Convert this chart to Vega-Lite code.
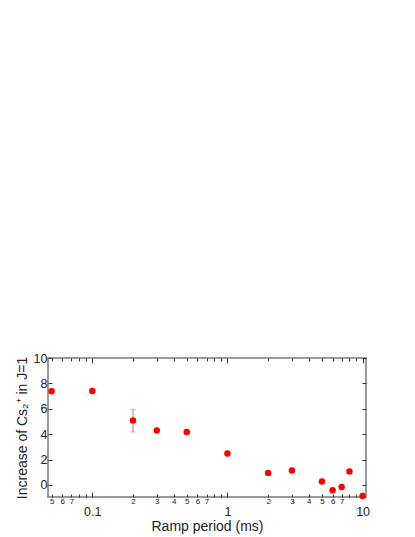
{
  "$schema": "https://vega.github.io/schema/vega-lite/v6.json",
  "autosize": "none",
  "width": 318,
  "height": 139,
  "padding": {"left": 48, "top": 358, "right": 49, "bottom": 40},
  "background": "white",
  "config": {
    "font": "Liberation Sans",
    "view": {"stroke": "#7a7a7a", "strokeWidth": 1.5},
    "axis": {"grid": false, "domainColor": "#7a7a7a", "domainWidth": 1.5, "tickColor": "#333", "labelColor": "#222", "titleColor": "#222", "titleFontWeight": "normal"}
  },
  "datasets": {
    "pts": [
      {"period": 0.05, "increase": 7.38},
      {"period": 0.1, "increase": 7.4},
      {"period": 0.2, "increase": 5.07},
      {"period": 0.3, "increase": 4.28},
      {"period": 0.5, "increase": 4.17},
      {"period": 1, "increase": 2.47},
      {"period": 2, "increase": 0.95},
      {"period": 3, "increase": 1.13},
      {"period": 5, "increase": 0.27},
      {"period": 6, "increase": -0.42},
      {"period": 7, "increase": -0.16},
      {"period": 8, "increase": 1.05},
      {"period": 10, "increase": -0.87}
    ],
    "err": [
      {"period": 0.2, "lo": 4.17, "hi": 5.96}
    ]
  },
  "layer": [
    {
      "data": {"name": "err"},
      "mark": {"type": "errorbar", "ticks": {"size": 5, "color": "#f08080"}, "rule": {"color": "#f08080", "strokeWidth": 1.2}},
      "encoding": {
        "x": {"field": "period", "type": "quantitative",
          "scale": {"type": "log", "domain": [0.047, 10.6], "nice": false, "zero": false},
          "axis": {"orient": "top", "labels": false, "title": null, "domain": false,
            "values": [0.05,0.06,0.07,0.08,0.09,0.1,0.2,0.3,0.4,0.5,0.6,0.7,0.8,0.9,1,2,3,4,5,6,7,8,9,10],
            "tickSize": {"condition": {"test": "datum.value==0.1||datum.value==1||datum.value==10", "value": -5}, "value": -3}}},
        "y": {"field": "lo", "type": "quantitative",
          "scale": {"domain": [-0.95, 10], "nice": false, "zero": false},
          "axis": {"orient": "right", "labels": false, "title": null, "domain": false, "values": [0,2,4,6,8,10], "tickSize": -4}},
        "y2": {"field": "hi"}
      }
    },
    {
      "data": {"name": "pts"},
      "mark": {"type": "point", "filled": true, "opacity": 1, "color": "#ff0000", "size": 42},
      "encoding": {
        "x": {"field": "period", "type": "quantitative",
          "scale": {"type": "log", "domain": [0.047, 10.6], "nice": false, "zero": false},
          "axis": {"orient": "bottom", "title": "Ramp period (ms)", "titleFontSize": 14, "titlePadding": 2, "domain": false,
            "values": [0.05,0.06,0.07,0.08,0.09,0.1,0.2,0.3,0.4,0.5,0.6,0.7,0.8,0.9,1,2,3,4,5,6,7,8,9,10],
            "labelExpr": "datum.value==0.1 ? '0.1' : datum.value==1 ? '1' : datum.value==10 ? '10' : (round(datum.value/pow(10,floor(log(datum.value)/LN10+1e-9)))<=7 ? ''+round(datum.value/pow(10,floor(log(datum.value)/LN10+1e-9))) : '')",
            "labelFlush": false,
            "labelOverlap": false,
            "labelBaseline": "top",
            "labelFontSize": {"condition": {"test": "datum.value==0.1||datum.value==1||datum.value==10", "value": 12.5}, "value": 8},
            "labelPadding": {"condition": {"test": "datum.value==0.1||datum.value==1||datum.value==10", "value": 13}, "value": 3},
            "tickSize": {"condition": {"test": "datum.value==0.1||datum.value==1||datum.value==10", "value": -5}, "value": -3}}},
        "y": {"field": "increase", "type": "quantitative",
          "scale": {"domain": [-0.95, 10], "nice": false, "zero": false},
          "axis": {"orient": "left", "title": "Increase of Cs₂⁺ in J=1", "titleFontSize": 14, "titlePadding": 4, "domain": false,
            "values": [0,2,4,6,8,10], "tickSize": -4, "labelFontSize": 12.5, "labelPadding": 5}}
      }
    }
  ],
  "resolve": {"axis": {"x": "independent", "y": "independent"}}
}
